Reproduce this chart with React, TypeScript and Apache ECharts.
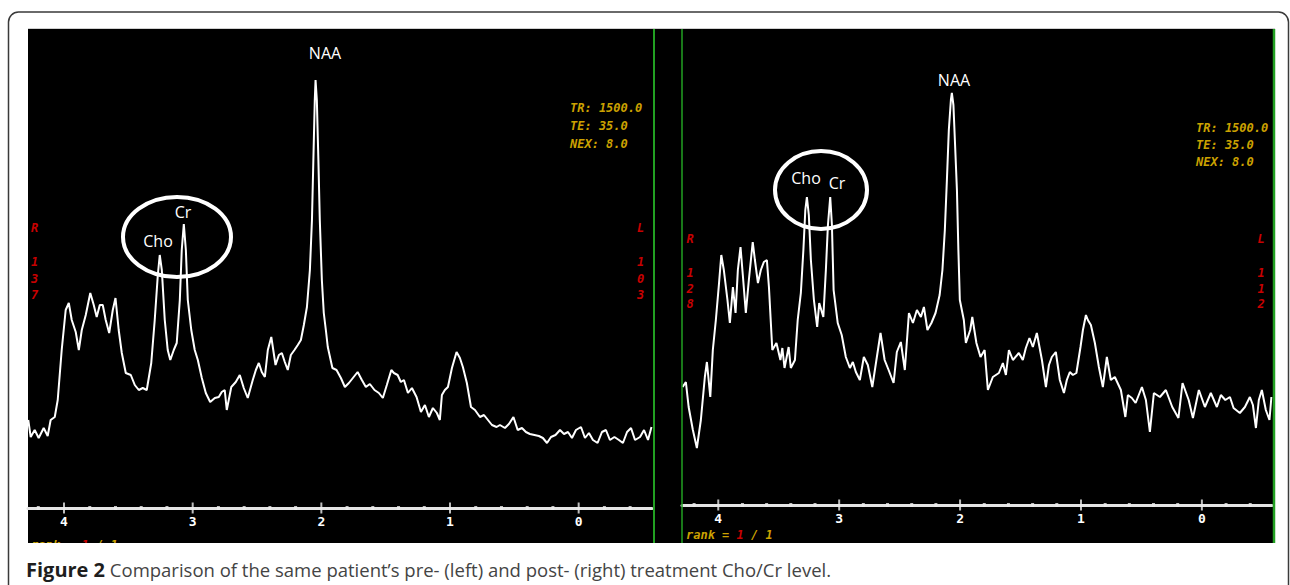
import React, { useEffect, useRef } from "react";
import * as echarts from "echarts";

// Pre-treatment spectrum: chemical shift (ppm) and signal height (a.u.)
const preShift = [4.278, 4.259, 4.228, 4.197, 4.158, 4.127, 4.104, 4.072, 4.049, 4.018, 3.987, 3.963, 3.94, 3.909, 3.885, 3.862, 3.831, 3.796, 3.769, 3.746, 3.722, 3.699, 3.676, 3.649, 3.621, 3.6, 3.575, 3.551, 3.52, 3.481, 3.45, 3.419, 3.388, 3.357, 3.322, 3.295, 3.271, 3.256, 3.24, 3.217, 3.194, 3.174, 3.147, 3.124, 3.1, 3.085, 3.069, 3.053, 3.038, 3.011, 2.984, 2.96, 2.929, 2.898, 2.864, 2.828, 2.797, 2.774, 2.751, 2.735, 2.7, 2.665, 2.634, 2.603, 2.572, 2.533, 2.509, 2.486, 2.463, 2.439, 2.416, 2.389, 2.356, 2.33, 2.307, 2.284, 2.261, 2.237, 2.209, 2.183, 2.159, 2.136, 2.112, 2.089, 2.073, 2.062, 2.051, 2.045, 2.035, 2.023, 2.012, 1.996, 1.981, 1.965, 1.95, 1.914, 1.882, 1.848, 1.817, 1.786, 1.755, 1.718, 1.685, 1.654, 1.623, 1.587, 1.553, 1.522, 1.491, 1.456, 1.436, 1.407, 1.382, 1.358, 1.327, 1.296, 1.26, 1.226, 1.195, 1.164, 1.133, 1.102, 1.079, 1.063, 1.04, 1.016, 0.985, 0.949, 0.923, 0.9, 0.869, 0.837, 0.806, 0.767, 0.736, 0.705, 0.674, 0.638, 0.612, 0.573, 0.542, 0.507, 0.474, 0.441, 0.41, 0.379, 0.344, 0.309, 0.278, 0.246, 0.215, 0.18, 0.145, 0.114, 0.083, 0.052, 0.021, -0.018, -0.049, -0.08, -0.111, -0.147, -0.181, -0.212, -0.243, -0.278, -0.313, -0.344, -0.376, -0.407, -0.438, -0.477, -0.508, -0.539, -0.566];
const preSignal = [88, 71, 78, 70, 80, 72, 88, 91, 108, 158, 198, 205, 188, 176, 158, 178, 193, 215, 203, 191, 203, 203, 188, 175, 198, 210, 178, 155, 135, 133, 123, 118, 120, 118, 145, 188, 233, 253, 238, 188, 158, 148, 158, 165, 208, 258, 284, 258, 208, 178, 158, 148, 130, 115, 106, 110, 111, 116, 118, 98, 121, 126, 133, 120, 110, 128, 138, 145, 136, 131, 158, 171, 143, 153, 155, 146, 138, 153, 158, 163, 168, 183, 201, 238, 288, 348, 408, 428, 408, 348, 288, 228, 195, 178, 161, 140, 138, 130, 121, 125, 130, 136, 128, 121, 124, 118, 115, 110, 123, 138, 135, 133, 126, 128, 115, 120, 111, 96, 103, 91, 100, 95, 88, 113, 118, 121, 140, 156, 150, 141, 125, 101, 98, 91, 93, 88, 83, 81, 83, 80, 84, 91, 78, 80, 76, 74, 73, 72, 70, 65, 71, 73, 78, 74, 76, 70, 78, 81, 70, 75, 68, 65, 76, 78, 68, 71, 68, 65, 76, 80, 68, 71, 78, 68, 81];

// Post-treatment spectrum
const postShift = [4.295, 4.268, 4.245, 4.21, 4.177, 4.144, 4.111, 4.094, 4.066, 4.045, 4.02, 3.995, 3.975, 3.954, 3.924, 3.904, 3.879, 3.857, 3.838, 3.816, 3.797, 3.772, 3.747, 3.715, 3.697, 3.672, 3.648, 3.623, 3.598, 3.581, 3.553, 3.519, 3.486, 3.47, 3.452, 3.418, 3.4, 3.366, 3.343, 3.317, 3.296, 3.28, 3.267, 3.251, 3.234, 3.209, 3.182, 3.165, 3.131, 3.11, 3.093, 3.074, 3.06, 3.046, 3.012, 2.979, 2.945, 2.911, 2.887, 2.862, 2.829, 2.796, 2.763, 2.726, 2.692, 2.658, 2.624, 2.591, 2.55, 2.523, 2.49, 2.457, 2.423, 2.39, 2.357, 2.324, 2.299, 2.27, 2.237, 2.203, 2.169, 2.146, 2.126, 2.109, 2.093, 2.076, 2.068, 2.055, 2.043, 2.026, 2.014, 2.002, 1.969, 1.952, 1.916, 1.899, 1.865, 1.831, 1.797, 1.77, 1.729, 1.679, 1.646, 1.621, 1.596, 1.563, 1.514, 1.481, 1.456, 1.426, 1.398, 1.365, 1.323, 1.29, 1.265, 1.241, 1.208, 1.175, 1.141, 1.117, 1.092, 1.067, 1.038, 1.004, 0.984, 0.959, 0.943, 0.918, 0.885, 0.852, 0.819, 0.786, 0.753, 0.72, 0.67, 0.633, 0.612, 0.579, 0.548, 0.496, 0.463, 0.43, 0.397, 0.347, 0.298, 0.245, 0.194, 0.16, 0.109, 0.074, 0.025, -0.025, -0.074, -0.124, -0.157, -0.194, -0.232, -0.262, -0.314, -0.356, -0.397, -0.422, -0.447, -0.471, -0.496, -0.529, -0.559, -0.575];
const postSignal = [118, 123, 98, 75, 57, 85, 128, 143, 108, 155, 185, 220, 250, 235, 205, 182, 218, 192, 235, 258, 230, 192, 225, 263, 245, 222, 235, 243, 245, 218, 155, 162, 145, 157, 137, 158, 137, 145, 185, 212, 255, 295, 308, 290, 245, 205, 178, 202, 188, 235, 280, 308, 280, 215, 182, 170, 148, 137, 143, 133, 125, 148, 140, 118, 145, 172, 145, 135, 122, 153, 163, 135, 192, 182, 195, 188, 198, 175, 182, 192, 210, 235, 275, 325, 375, 405, 412, 400, 365, 315, 255, 205, 185, 162, 175, 188, 162, 148, 155, 115, 128, 132, 142, 130, 155, 145, 152, 145, 157, 167, 158, 172, 145, 118, 140, 148, 153, 125, 112, 125, 133, 130, 132, 158, 175, 190, 185, 180, 162, 138, 118, 148, 125, 128, 115, 88, 110, 107, 102, 118, 105, 73, 112, 108, 115, 98, 87, 122, 105, 87, 115, 98, 112, 98, 110, 105, 108, 97, 92, 98, 108, 100, 77, 105, 115, 95, 85, 108];

// ppm scale
const majorTicks = [4, 3, 2, 1, 0];
const tickLabels = ["4", "3", "2", "1", "0"];
const minorTicks = [4.2, 3.8, 3.6, 3.4, 3.2, 2.8, 2.6, 2.4, 2.2, 1.8, 1.6, 1.4, 1.2, 0.8, 0.6, 0.4, 0.2, -0.2, -0.4];

// Scanner overlay text
const acqParams = ["TR: 1500.0", "TE: 35.0", "NEX: 8.0"];
const preLeftMarks = ["1", "3", "7"];
const preRightMarks = ["1", "0", "3"];
const postLeftMarks = ["1", "2", "8"];
const postRightMarks = ["1", "1", "2"];
const captionBold = "Figure 2";
const captionText = " Comparison of the same patient\u2019s pre- (left) and post- (right) treatment Cho/Cr level.";

const MONO = "'DejaVu Sans Mono', monospace";
const SANS = "'Open Sans', 'Noto Sans', sans-serif";
const GOLD = "#cca200";
const RED = "#c80000";
const GREEN = "#22a022";
const OVERLAY_FONT = `italic bold 12px ${MONO}`;

function pairs(xs: number[], ys: number[]) {
  const n = Math.min(xs.length, ys.length);
  const out: number[][] = [];
  for (let i = 0; i < n; i++) out.push([xs[i], ys[i]]);
  return out;
}

function ppmAxis(gridIndex: number, min: number, max: number) {
  return {
    type: "value",
    gridIndex,
    inverse: true,
    position: "bottom",
    min,
    max,
    splitLine: { show: false },
    axisTick: { show: false },
    axisLine: { show: true, onZero: false, lineStyle: { color: "#e4e4e4", width: 3 } },
    axisLabel: {
      customValues: majorTicks,
      formatter: (v: number) => {
        const i = majorTicks.indexOf(v);
        return i >= 0 ? tickLabels[i] : String(v);
      },
      color: "#ffffff",
      fontFamily: MONO,
      fontWeight: "bold",
      fontSize: 13,
      margin: 7,
    },
  };
}

function tickSeries(axis: number, values: number[], size: number[]) {
  return {
    type: "scatter",
    xAxisIndex: axis,
    yAxisIndex: axis,
    silent: true,
    clip: false,
    symbol: "rect",
    symbolSize: size,
    itemStyle: { color: "#ececec" },
    data: values.map((v) => [v, 0]),
    z: 4,
  };
}

function monoText(x: number, y: number, text: string, color: string, align = "left") {
  return {
    type: "text",
    x,
    y,
    z: 60,
    style: { text, fill: color, font: OVERLAY_FONT, align, verticalAlign: "middle" },
  };
}

function whiteLabel(x: number, y: number, text: string) {
  return {
    type: "text",
    x,
    y,
    z: 60,
    style: { text, fill: "#ffffff", font: `16px ${SANS}`, align: "center", verticalAlign: "middle" },
  };
}

function sideColumn(x: number, yLetter: number, letter: string, digits: string[], yStart: number, step: number) {
  const els: any[] = [monoText(x, yLetter, letter, RED, "center")];
  digits.forEach((d, i) => els.push(monoText(x, yStart + i * step, d, RED, "center")));
  return els;
}

function rankText(x: number, y: number) {
  return {
    type: "text", z: 60, x, y,
    style: {
      text: "{g|rank = }{r|1}{g| / 1}",
      font: OVERLAY_FONT,
      verticalAlign: "middle",
      rich: { g: { fill: GOLD, font: OVERLAY_FONT }, r: { fill: RED, font: OVERLAY_FONT } },
    },
  };
}

export default function App() {
  const ref = useRef<HTMLDivElement>(null);

  useEffect(() => {
    if (!ref.current) return;
    const chart = echarts.init(ref.current, null, { renderer: "svg" });

    const graphics: any[] = [
      // outer figure frame
      { type: "rect", z: 1, shape: { x: 8.5, y: 12, width: 1280, height: 640, r: 10 }, style: { fill: "none", stroke: "#3a3a3a", lineWidth: 1.5 } },
      // black scanner screen
      { type: "rect", z: 0, shape: { x: 28, y: 29, width: 1247, height: 514 }, style: { fill: "#000000" } },
      { type: "line", z: 1, shape: { x1: 28, y1: 28.5, x2: 1275, y2: 28.5 }, style: { stroke: "#d0d0d0", lineWidth: 1 } },
      // green panel borders
      { type: "line", z: 5, shape: { x1: 654, y1: 29, x2: 654, y2: 543 }, style: { stroke: GREEN, lineWidth: 2 } },
      { type: "line", z: 5, shape: { x1: 682, y1: 29, x2: 682, y2: 543 }, style: { stroke: GREEN, lineWidth: 1.5 } },
      { type: "line", z: 5, shape: { x1: 1274, y1: 29, x2: 1274, y2: 543 }, style: { stroke: GREEN, lineWidth: 2.5 } },
      // peak annotations
      whiteLabel(325, 53, "NAA"),
      whiteLabel(158, 241, "Cho"),
      whiteLabel(183, 212, "Cr"),
      { type: "ellipse", z: 60, shape: { cx: 177, cy: 237, rx: 54, ry: 40 }, style: { fill: "none", stroke: "#ffffff", lineWidth: 4 } },
      whiteLabel(954, 80, "NAA"),
      whiteLabel(806, 178, "Cho"),
      whiteLabel(837, 183, "Cr"),
      { type: "ellipse", z: 60, shape: { cx: 821, cy: 190, rx: 46, ry: 39 }, style: { fill: "none", stroke: "#ffffff", lineWidth: 4 } },
      // acquisition parameters
      ...acqParams.map((t, i) => monoText(570, 108 + i * 18, t, GOLD)),
      ...acqParams.map((t, i) => monoText(1196, 128 + i * 17, t, GOLD)),
      // orientation / slice markers
      ...sideColumn(34.5, 228, "R", preLeftMarks, 262, 16.5),
      ...sideColumn(640.5, 228, "L", preRightMarks, 262, 16.5),
      ...sideColumn(690, 239, "R", postLeftMarks, 273, 15.7),
      ...sideColumn(1261, 239, "L", postRightMarks, 273, 15.7),
      // rank readouts (the left one runs off the bottom of the screen)
      rankText(31, 545),
      { type: "rect", z: 70, shape: { x: 20, y: 543, width: 640, height: 14 }, style: { fill: "#ffffff" } },
      rankText(686, 535),
      // caption
      {
        type: "text", z: 80, x: 26, y: 569,
        style: {
          text: `{b|${captionBold}}{n|${captionText}}`,
          verticalAlign: "middle",
          rich: {
            b: { fill: "#1e1e1e", font: `bold 20px ${SANS}` },
            n: { fill: "#444444", font: `18.5px ${SANS}` },
          },
        },
      },
    ];

    chart.setOption({
      animation: false,
      backgroundColor: "#ffffff",
      grid: [
        { left: 28, top: 29, width: 624, height: 479 },
        { left: 682, top: 29, width: 590, height: 476 },
      ],
      xAxis: [ppmAxis(0, -0.57, 4.28), ppmAxis(1, -0.58, 4.3)],
      yAxis: [
        { type: "value", gridIndex: 0, min: 0, max: 479, show: false },
        { type: "value", gridIndex: 1, min: 0, max: 476, show: false },
      ],
      series: [
        {
          name: "Pre-treatment",
          type: "line",
          xAxisIndex: 0,
          yAxisIndex: 0,
          data: pairs(preShift, preSignal),
          showSymbol: false,
          symbol: "none",
          lineStyle: { color: "#ffffff", width: 2 },
          z: 3,
        },
        {
          name: "Post-treatment",
          type: "line",
          xAxisIndex: 1,
          yAxisIndex: 1,
          data: pairs(postShift, postSignal),
          showSymbol: false,
          symbol: "none",
          lineStyle: { color: "#ffffff", width: 2 },
          z: 3,
        },
        tickSeries(0, majorTicks, [2, 11]),
        tickSeries(0, minorTicks, [3, 4]),
        tickSeries(1, majorTicks, [2, 11]),
        tickSeries(1, minorTicks, [3, 4]),
      ],
      graphic: { elements: graphics },
    });

    return () => chart.dispose();
  }, []);

  return (
    <div
      ref={ref}
      style={{ position: "fixed", left: 0, top: 0, width: 1290, height: 585, background: "#ffffff" }}
    />
  );
}
